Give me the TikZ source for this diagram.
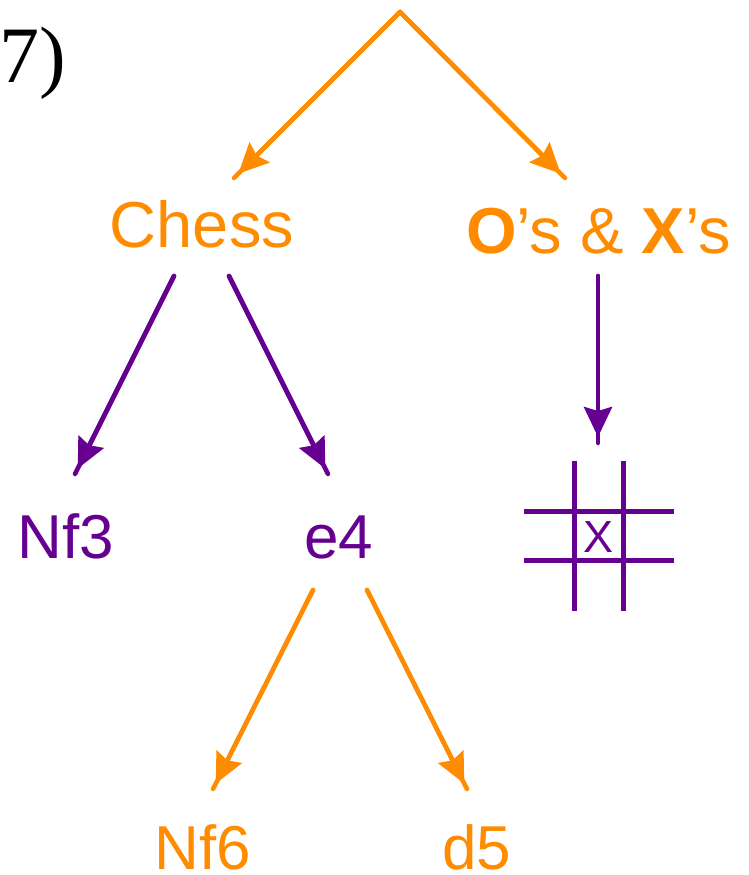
\documentclass[tikz,border=0pt]{standalone}
\usepackage{fontspec}
\setmainfont{Liberation Sans}
\newfontfamily\numserif{Liberation Serif}
\usetikzlibrary{arrows.meta}
\definecolor{orng}{RGB}{255,140,0}
\definecolor{purp}{RGB}{102,0,145}
\tikzset{
  conn/.style={line width=4.5pt, line cap=round},
  headtip/.style={-{Stealth[length=30pt,width=28pt,inset=4pt]}, shorten >=6pt},
  big/.style={font=\fontsize{65}{70}\selectfont, inner sep=0pt, anchor=base},
  med/.style={font=\fontsize{62}{66}\selectfont, inner sep=0pt, anchor=base},
}
\begin{document}
\begin{tikzpicture}[x=1pt,y=-1pt]
\useasboundingbox (0,0) rectangle (748,875);
% label
\node[inner sep=0pt, anchor=base west, font=\numserif\fontsize{80}{84}\selectfont] (num) at (-1,82) {7)};
% text nodes
\node[big, text=orng] (chess) at (202,247) {Chess};
\node[big, text=orng] (ox) at (598.5,253) {\textbf{O}’s \& \textbf{X}’s};
\node[med, text=purp] (nf3) at (65.5,558) {Nf3};
\node[med, text=purp] (e4) at (339,558) {e4};
\node[med, text=orng] (nf6) at (202.5,869) {Nf6};
\node[med, text=orng] (d5) at (476.5,869) {d5};
\node[font=\fontsize{45}{48}\selectfont, inner sep=0pt, anchor=base, text=purp] (xmark) at (598.5,552) {X};
% connector endpoints
\coordinate (top) at (400,12);
\coordinate (chessIn) at (234,178);
\coordinate (oxIn) at (565,178);
\coordinate (chessL) at (174,276);
\coordinate (chessR) at (229,276);
\coordinate (nf3In) at (75,474);
\coordinate (e4In) at (328,474);
\coordinate (oxOut) at (598,276);
\coordinate (gridIn) at (598,443);
\coordinate (e4L) at (313,590);
\coordinate (e4R) at (367,590);
\coordinate (nf6In) at (213,789);
\coordinate (d5In) at (467,789);
% orange connectors
\foreach \a/\b in {top/chessIn, top/oxIn, e4L/nf6In, e4R/d5In}{
  \draw[conn, orng] (\a) -- (\b);
  \draw[conn, orng, headtip] (\a) -- (\b);
}
% purple connectors
\foreach \a/\b in {chessL/nf3In, chessR/e4In, oxOut/gridIn}{
  \draw[conn, purp] (\a) -- (\b);
  \draw[conn, purp, headtip] (\a) -- (\b);
}
% tic-tac-toe grid
\draw[purp, line width=5pt] (574,461) -- (574,611) (623,461) -- (623,611)
  (524,511) -- (674,511) (524,560) -- (674,560);
\end{tikzpicture}
\end{document}
